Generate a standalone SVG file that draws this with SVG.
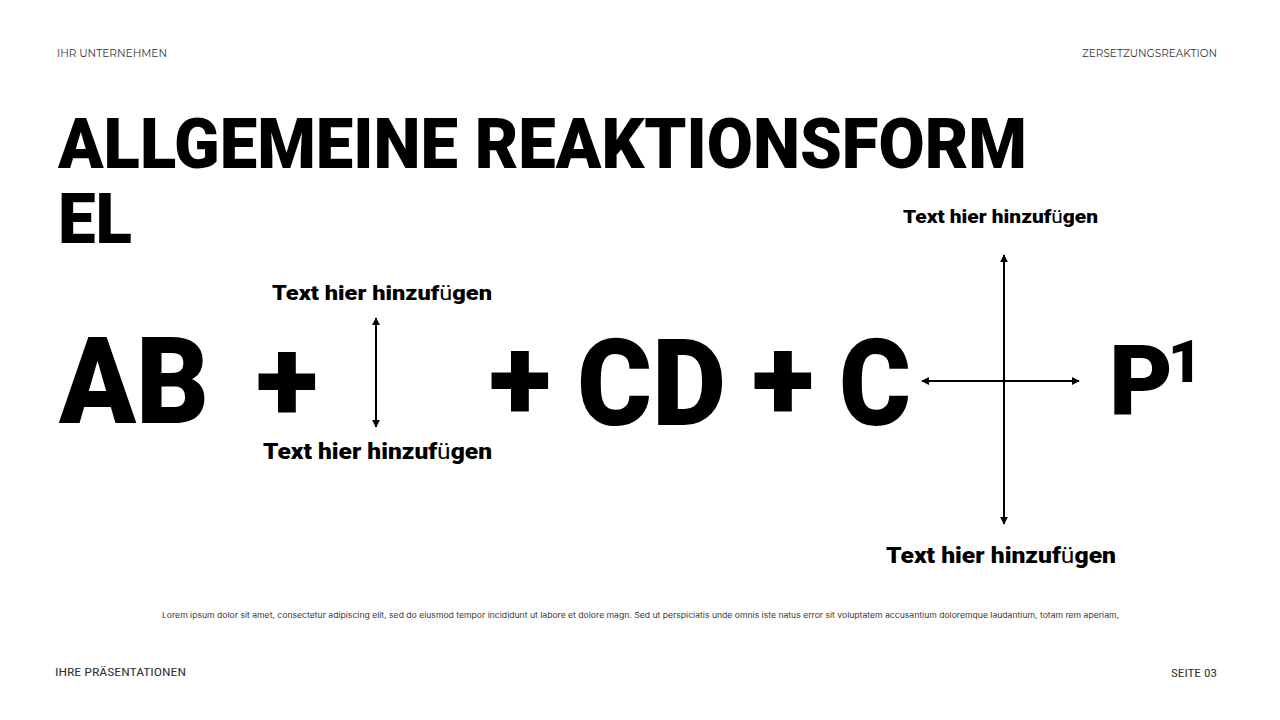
<svg xmlns="http://www.w3.org/2000/svg" width="1280" height="720" viewBox="0 0 1280 720">
  <style>
    .hdr { font-family: "Montserrat", "Inter", "Liberation Sans", sans-serif; font-size: 10.5px; fill: #333; }
    .ftr { font-family: "Liberation Sans Narrow", "Roboto Condensed", "Liberation Sans", sans-serif; font-size: 11px; fill: #333; }
    .title { font-family: "Roboto", "Liberation Sans", sans-serif; font-weight: 900; font-size: 70px; fill: #000; }
    .big { font-family: "Roboto", "Liberation Sans", sans-serif; font-weight: 900; fill: #000; }
    .lbl { font-family: "Roboto", "Liberation Sans", sans-serif; font-weight: 900; fill: #000; }
    .lbl .u { font-weight: 400; }
    .lorem { font-family: "Inter", "Liberation Sans", sans-serif; font-size: 7.5px; fill: #333; }
    .conn { stroke: #000; stroke-width: 2; fill: none; }
  </style>
  <defs>
    <marker id="ah" viewBox="0 0 10 10" refX="9" refY="5" markerWidth="4" markerHeight="4" orient="auto-start-reverse" markerUnits="strokeWidth">
      <path d="M0,0 L10,5 L0,10 z" fill="#000"/>
    </marker>
  </defs>
  <rect width="1280" height="720" fill="#fff"/>

  <text class="hdr" x="57" y="57" textLength="110" lengthAdjust="spacingAndGlyphs">IHR UNTERNEHMEN</text>
  <text class="hdr" x="1217" y="57" text-anchor="end">ZERSETZUNGSREAKTION</text>

  <g id="title">
    <text class="title" x="58" y="168" textLength="969" lengthAdjust="spacingAndGlyphs">ALLGEMEINE REAKTIONSFORM</text>
    <text class="title" x="58" y="243" textLength="74" lengthAdjust="spacingAndGlyphs">EL</text>
  </g>

  <g id="node-ab"><text class="big" x="59" y="423" font-size="120" textLength="150" lengthAdjust="spacingAndGlyphs">AB</text></g>
  <g id="node-plus1"><text class="big" x="287" y="421" font-size="116" text-anchor="middle">+</text></g>
  <g id="node-plus2"><text class="big" x="520" y="420" font-size="116" text-anchor="middle">+</text></g>
  <g id="node-cd"><text class="big" x="577" y="425" font-size="120" textLength="149" lengthAdjust="spacingAndGlyphs">CD</text></g>
  <g id="node-plus3"><text class="big" x="783" y="420" font-size="116" text-anchor="middle">+</text></g>
  <g id="node-c"><text class="big" x="839" y="425" font-size="120" textLength="72" lengthAdjust="spacingAndGlyphs">C</text></g>
  <g id="node-p1">
    <text class="big" x="1109" y="415" font-size="98">P<tspan x="1168" y="382" font-size="59">1</tspan></text>
  </g>

  <g id="label-left-top"><text class="lbl" x="272" y="300" font-size="21" textLength="220" lengthAdjust="spacingAndGlyphs">Text hier hinzuf<tspan class="u">ü</tspan>gen</text></g>
  <g id="label-left-bottom"><text class="lbl" x="263" y="459" font-size="22" textLength="229" lengthAdjust="spacingAndGlyphs">Text hier hinzuf<tspan class="u">ü</tspan>gen</text></g>
  <g id="label-right-top"><text class="lbl" x="903" y="223" font-size="19" textLength="195" lengthAdjust="spacingAndGlyphs">Text hier hinzuf<tspan class="u">ü</tspan>gen</text></g>
  <g id="label-right-bottom"><text class="lbl" x="886" y="563" font-size="22" textLength="230" lengthAdjust="spacingAndGlyphs">Text hier hinzuf<tspan class="u">ü</tspan>gen</text></g>

  <g id="connectors">
    <line class="conn" x1="376" y1="427" x2="376" y2="318" marker-start="url(#ah)" marker-end="url(#ah)"/>
    <line class="conn" x1="1004" y1="524" x2="1004" y2="255" marker-start="url(#ah)" marker-end="url(#ah)"/>
    <line class="conn" x1="922" y1="381" x2="1079" y2="381" marker-start="url(#ah)" marker-end="url(#ah)"/>
  </g>

  <text class="lorem" x="162" y="618" textLength="957" lengthAdjust="spacingAndGlyphs">Lorem ipsum dolor sit amet, consectetur adipiscing elit, sed do eiusmod tempor incididunt ut labore et dolore magn. Sed ut perspiciatis unde omnis iste natus error sit voluptatem accusantium doloremque laudantium, totam rem aperiam,</text>

  <text class="ftr" x="55" y="676" textLength="131" lengthAdjust="spacingAndGlyphs">IHRE PRÄSENTATIONEN</text>
  <text class="ftr" x="1171" y="677" textLength="46" lengthAdjust="spacingAndGlyphs">SEITE 03</text>
</svg>
